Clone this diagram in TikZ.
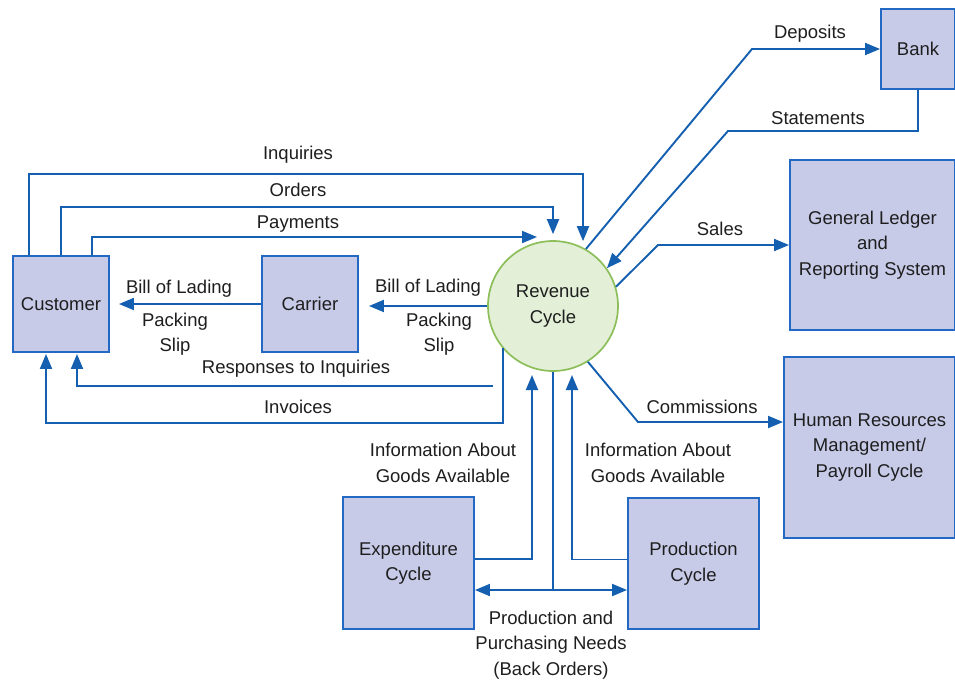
\documentclass[tikz,border=0pt]{standalone}
\usepackage{fontspec}
\setmainfont{Liberation Sans}
\usetikzlibrary{arrows.meta}
\definecolor{flowblue}{RGB}{20,95,175}
\definecolor{boxfill}{RGB}{199,203,232}
\definecolor{boxline}{RGB}{35,105,195}
\definecolor{circfill}{RGB}{227,240,215}
\definecolor{circline}{RGB}{140,190,90}
\definecolor{txt}{RGB}{30,30,30}
\begin{document}
\begin{tikzpicture}[x=1pt,y=-1pt,
  font=\fontsize{18.5}{25.5}\selectfont,
  box/.style={draw=boxline, fill=boxfill, line width=1.9pt, inner sep=0pt, align=center, text=txt},
  flow/.style={draw=flowblue, line width=1.9pt, -{Triangle[length=15pt,width=12pt]}},
  flowboth/.style={draw=flowblue, line width=1.9pt, {Triangle[length=15pt,width=12pt]}-{Triangle[length=15pt,width=12pt]}},
  plain/.style={draw=flowblue, line width=1.9pt},
  lbl/.style={inner sep=0pt, align=center, text=txt}]
\useasboundingbox (0,0) rectangle (955,681);
\clip (0,0) rectangle (955,681);

% nodes
\node[box, minimum width=96, minimum height=96] (cust) at (61,304) {Customer};
\node[box, minimum width=96, minimum height=96] (car) at (310,304) {Carrier};
\node[circle, draw=circline, fill=circfill, line width=1.7pt, minimum size=130, inner sep=0pt, align=center, text=txt] (rev) at (553,306) {Revenue\\Cycle};
\node[box, minimum width=74, minimum height=80] (bank) at (918,49) {Bank};
\node[box, minimum width=165, minimum height=170] (gl) at (872.5,245) {General Ledger\\and\\Reporting System};
\node[box, minimum width=171, minimum height=181] (hr) at (869.5,447.5) {Human Resources\\Management/\\Payroll Cycle};
\node[box, minimum width=131, minimum height=132] (exp) at (408.5,563) {Expenditure\\Cycle};
\node[box, minimum width=131, minimum height=131] (prod) at (693.5,563.5) {Production\\Cycle};

\coordinate (payEnd) at (537,237);
\coordinate (respStart) at (493,386);

% connectors customer side
\draw[flow] ([xshift=-32pt]cust.north) |- (583,174) -- ([xshift=30pt,yshift=-1pt]rev.north);
\draw[flow] (cust.north) |- (553,207) -- ([yshift=6pt]rev.north);
\draw[flow] ([xshift=31pt]cust.north) |- (payEnd);
\draw[flow] (car.west) -- ([xshift=9pt]cust.east);
\draw[flow] (rev.west) -- ([xshift=10pt]car.east |- rev.west);
\draw[flow] (respStart) -| ([xshift=16pt,yshift=-1pt]cust.south);
\draw[flow] (rev.220) |- (46,423) -- ([xshift=-15pt,yshift=-1pt]cust.south);

% right side
\draw[flow] (rev.60) -- (752,49) -- (bank.west);
\draw[flow] (bank.south) |- (728,131) -- (rev.35);
\draw[flow] (rev.17) -- (658,245) -- (gl.west);
\draw[flow] (rev.-58) -- (638,422) -- (hr.west |- 638,422);

% bottom
\draw[flow] ([yshift=4pt]exp.east) -| (532,375);
\draw[flow] ([yshift=4pt]prod.west) -| (572,375);
\draw[plain] (rev.south) -- (553,590);
\draw[flowboth] (exp.east |- 553,590) -- (prod.west |- 553,590);

% labels
\node[lbl] (lInq) at (298,155) {Inquiries};
\node[lbl] (lOrd) at (298,190) {Orders};
\node[lbl] (lPay) at (298,224) {Payments};
\node[lbl] (lBol1) at (179,289) {Bill of Lading};
\node[lbl] (lPs1) at (175,334) {Packing\\Slip};
\node[lbl] (lBol2) at (428,288) {Bill of Lading};
\node[lbl] (lPs2) at (439,334) {Packing\\Slip};
\node[lbl] (lResp) at (296,369) {Responses to Inquiries};
\node[lbl] (lInv) at (298,407) {Invoices};
\node[lbl] (lDep) at (810,34) {Deposits};
\node[lbl] (lSta) at (818,118) {Statements};
\node[lbl] (lSal) at (720,229) {Sales};
\node[lbl] (lCom) at (702,407) {Commissions};
\node[lbl] (lInfo1) at (443,463) {Information About\\Goods Available};
\node[lbl] (lInfo2) at (658,463) {Information About\\Goods Available};
\node[lbl] (lNeeds) at (551,645) {Production and\\Purchasing Needs\\(Back Orders)};
\end{tikzpicture}
\end{document}
